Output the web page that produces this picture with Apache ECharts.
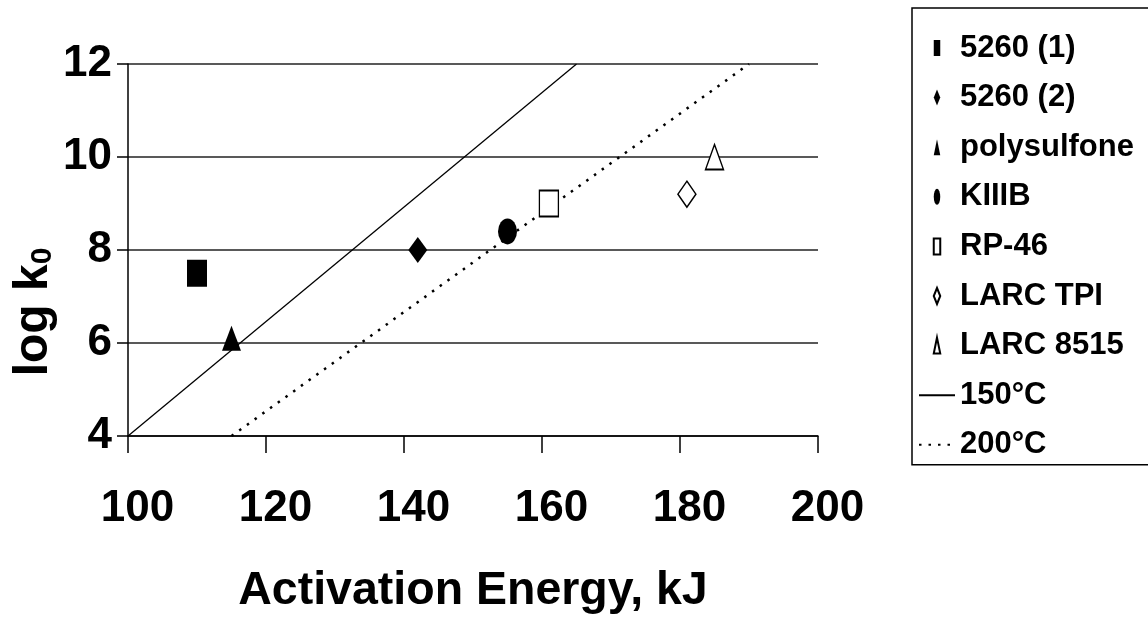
<!DOCTYPE html>
<html>
<head>
<meta charset="utf-8">
<script src="https://cdn.jsdelivr.net/npm/echarts@6/dist/echarts.min.js"></script>
<style>
  html, body { margin: 0; padding: 0; background: #fff; }
  #chart { width: 1148px; height: 620px; }
</style>
</head>
<body>
<div id="chart"></div>
<script>
// Activation energy (kJ) vs log k0 for several resin systems
const materials = ['5260 (1)', '5260 (2)', 'polysulfone', 'KIIIB', 'RP-46', 'LARC TPI', 'LARC 8515'];
const activationEnergy = [110, 142, 115, 155, 161, 181, 185];
const logK0 = [7.5, 8.0, 6.1, 8.4, 9.0, 9.2, 10.0];

// Iso-temperature reference lines: [Ea, log k0] end points
const line150Name = '150°C';
const line150 = [[100, 4], [165, 12]];
const line200Name = '200°C';
const line200 = [[115, 4], [190, 12]];

// Axis ranges
const xTicks = { min: 100, max: 200, step: 20 };
const yTicks = { min: 4, max: 12, step: 2 };

const FONT = "'Liberation Sans', Arial, Helvetica, sans-serif";

// marker shapes (narrow in the legend, stretched on the plot)
const SHAPES = {
  square:   'path://M0,0H6.5V16H0Z',
  diamond:  'path://M3.25,0L6.5,8L3.25,16L0,8Z',
  triangle: 'path://M3.25,0L6.5,16H0Z',
  ellipse:  'path://M3.25,0A3.25,8 0 1,1 3.25,16A3.25,8 0 1,1 3.25,0Z'
};
const markerStyle = [
  { shape: 'square',   filled: true,  size: [20, 27] },
  { shape: 'diamond',  filled: true,  size: [19, 26] },
  { shape: 'triangle', filled: true,  size: [19, 25] },
  { shape: 'ellipse',  filled: true,  size: [19, 26] },
  { shape: 'square',   filled: false, size: [19, 26] },
  { shape: 'diamond',  filled: false, size: [18, 26] },
  { shape: 'triangle', filled: false, size: [18, 25] }
];

const series = [];
series.push({
  name: line150Name, type: 'line', data: line150, symbol: 'none', z: 1,
  itemStyle: { color: '#000', opacity: 0 },
  lineStyle: { color: '#000', width: 1.3, type: 'solid', opacity: 1 }
});
series.push({
  name: line200Name, type: 'line', data: line200, symbol: 'none', z: 1,
  itemStyle: { color: '#000', opacity: 0 },
  lineStyle: { color: '#000', width: 2.5, type: [2.5, 7], opacity: 1 }
});
materials.forEach((name, i) => {
  const m = markerStyle[i];
  series.push({
    name: name, type: 'scatter', z: 3,
    data: [[activationEnergy[i], logK0[i]]],
    symbol: SHAPES[m.shape], symbolSize: m.size,
    itemStyle: m.filled
      ? { color: '#000', borderWidth: 0, opacity: 1 }
      : { color: '#fff', borderColor: '#000', borderWidth: 1.5, opacity: 1 }
  });
});

const chart = echarts.init(document.getElementById('chart'), null, { renderer: 'canvas' });
chart.setOption({
  animation: false,
  backgroundColor: '#fff',
  grid: { left: 128, right: 330, top: 64, bottom: 184, containLabel: false, outerBoundsMode: 'none' },
  legend: {
    orient: 'vertical', left: 912, top: 8,
    data: materials.concat([line150Name, line200Name]),
    itemWidth: 36, itemHeight: 16, itemGap: 15.6,
    padding: [23, 80, 3, 6],
    borderColor: '#000', borderWidth: 1.5,
    selectedMode: false,
    textStyle: { fontFamily: FONT, fontSize: 31, fontWeight: 'bold', color: '#000', lineHeight: 34 }
  },
  xAxis: {
    type: 'value', min: xTicks.min, max: xTicks.max, interval: xTicks.step,
    name: 'Activation Energy, kJ', nameLocation: 'middle', nameGap: 132, nameMoveOverlap: false,
    nameTextStyle: { fontFamily: FONT, fontSize: 46.5, fontWeight: 'bold', color: '#000' },
    axisLine: { show: true, lineStyle: { color: '#000', width: 1.5 } },
    axisTick: { show: true, length: 17, lineStyle: { color: '#000', width: 1.5 } },
    splitLine: { show: false },
    axisLabel: { fontFamily: FONT, fontSize: 44, fontWeight: 'bold', color: '#000', margin: 51, padding: [0, 0, 0, 19] }
  },
  yAxis: {
    type: 'value', min: yTicks.min, max: yTicks.max, interval: yTicks.step,
    name: '{a|log k}{b|0}', nameLocation: 'middle', nameGap: 70, nameMoveOverlap: false,
    nameTextStyle: {
      fontFamily: FONT, fontWeight: 'bold', color: '#000', padding: [0, 124, 0, 0],
      rich: {
        a: { fontFamily: FONT, fontSize: 48, fontWeight: 'bold', color: '#000', lineHeight: 48 },
        b: { fontFamily: FONT, fontSize: 30, fontWeight: 'bold', color: '#000', verticalAlign: 'bottom', lineHeight: 32 }
      }
    },
    axisLine: { show: true, lineStyle: { color: '#000', width: 1.5 } },
    axisTick: { show: true, length: 11, lineStyle: { color: '#000', width: 1.5 } },
    splitLine: { show: true, lineStyle: { color: '#222', width: 1.5 } },
    axisLabel: { fontFamily: FONT, fontSize: 44, fontWeight: 'bold', color: '#000', margin: 16 }
  },
  series: series
});
</script>
</body>
</html>
